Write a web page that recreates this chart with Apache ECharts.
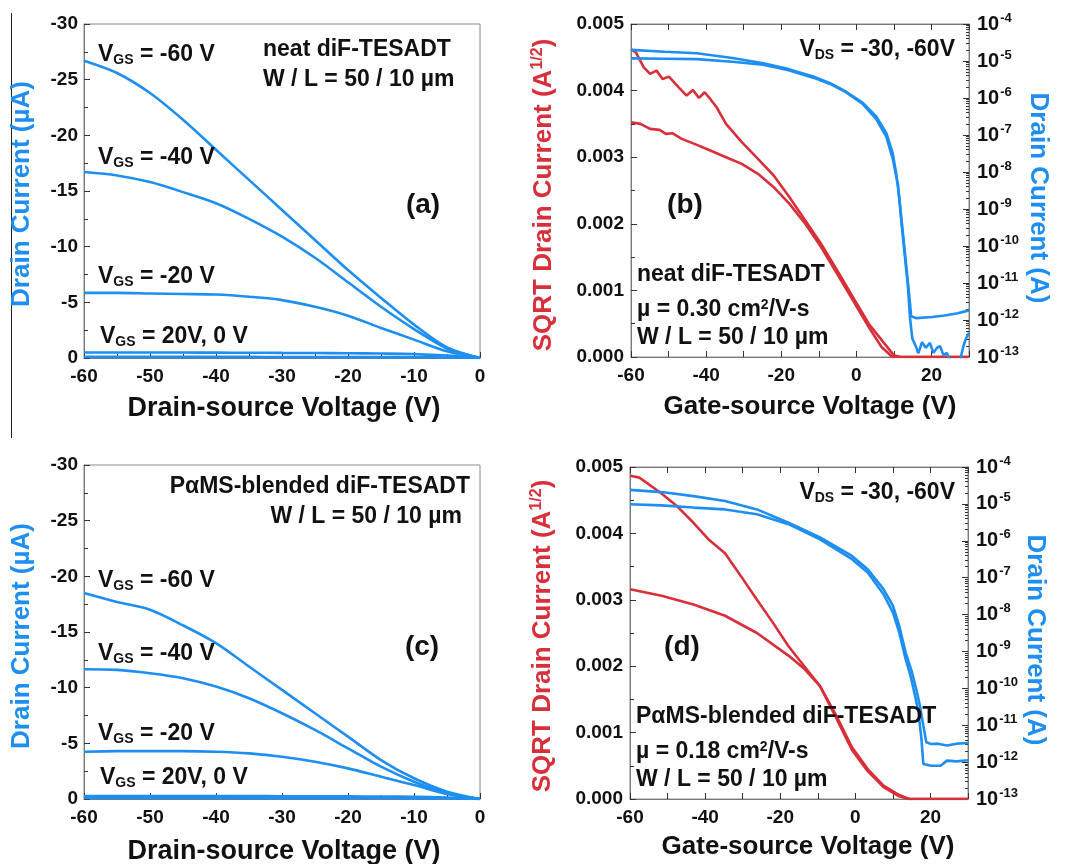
<!DOCTYPE html>
<html>
<head>
<meta charset="utf-8">
<script src="https://cdn.jsdelivr.net/npm/echarts@6/dist/echarts.min.js"></script>
<style>
  html, body { margin: 0; padding: 0; background: #fff; }
  #main { width: 1073px; height: 864px; }
</style>
</head>
<body>
<div id="main"></div>
<script>
/* ---------- (a) output curves, neat diF-TESADT ---------- */
var vdsA = [-60, -55, -50, -45, -40, -35, -30, -25, -20, -15, -10, -5, 0];
var idA_m60 = [-26.7, -25.6, -23.8, -21.4, -18.7, -16.0, -13.3, -10.6, -7.9, -5.4, -3.0, -0.95, 0];
var idA_m40 = [-16.7, -16.4, -15.8, -14.9, -13.9, -12.5, -10.9, -9.0, -6.8, -4.6, -2.6, -0.85, 0];
var idA_m20 = [-5.85, -5.85, -5.8, -5.75, -5.7, -5.5, -5.2, -4.6, -3.8, -2.7, -1.65, -0.6, 0];
var idA_0 = [-0.5, -0.5, -0.5, -0.49, -0.48, -0.47, -0.46, -0.45, -0.43, -0.4, -0.35, -0.22, 0];
var idA_p20 = [-0.1, -0.1, -0.1, -0.1, -0.1, -0.1, -0.09, -0.09, -0.08, -0.08, -0.07, -0.05, 0];

/* ---------- (c) output curves, PaMS-blended ---------- */
var vdsC = [-60, -55, -50, -45, -40, -35, -30, -25, -20, -15, -10, -5, 0];
var idC_m60 = [-18.5, -17.7, -17.0, -15.6, -14.0, -11.9, -9.8, -7.7, -5.6, -3.5, -1.86, -0.66, 0];
var idC_m40 = [-11.65, -11.6, -11.3, -10.85, -10.1, -9.05, -7.7, -6.2, -4.55, -2.9, -1.55, -0.5, 0];
var idC_m20 = [-4.25, -4.3, -4.3, -4.3, -4.25, -4.1, -3.8, -3.35, -2.75, -2.0, -1.26, -0.45, 0];
var idC_0 = [-0.27, -0.27, -0.27, -0.27, -0.26, -0.26, -0.25, -0.25, -0.24, -0.22, -0.2, -0.13, 0];
var idC_p20 = [-0.09, -0.09, -0.09, -0.09, -0.09, -0.08, -0.08, -0.08, -0.07, -0.07, -0.06, -0.04, 0];

/* ---------- (b) transfer curves, neat ---------- */
// sqrt(Id), left axis
var vgsB_r1 = [-60, -58.7, -56.6, -54.9, -53.2, -51.6, -49.9, -47.3, -45.2, -43.5, -41.9, -40.4, -38.9, -37.2, -34.7, -30.5, -26.2, -22.0, -17.8, -13.6, -9.4, -5.1, -0.9, 3.3, 7.5, 10.0, 11.7, 30];
var sqrtB_r1 = [0.00462, 0.004575, 0.00435, 0.00425, 0.0043, 0.004175, 0.00421, 0.00405, 0.003925, 0.00401, 0.00389, 0.003975, 0.003875, 0.00375, 0.0035, 0.003225, 0.002975, 0.002725, 0.0024, 0.00205, 0.0017, 0.0013, 0.0009, 0.0005, 0.0002, 0.000025, 0, 0];
var vgsB_r2 = [-60, -57.5, -54.9, -52.4, -50.7, -49.0, -46.5, -43.1, -38.9, -34.7, -30.5, -26.2, -22.0, -17.8, -13.6, -9.4, -5.1, -0.9, 3.3, 6.7, 9.6, 30];
var sqrtB_r2 = [0.003525, 0.0035, 0.003425, 0.00341, 0.00335, 0.00336, 0.003275, 0.0032, 0.0031, 0.003, 0.0029, 0.00275, 0.00255, 0.0023, 0.002, 0.00165, 0.00125, 0.00085, 0.00045, 0.00015, 0, 0];
// log10 of Id (A), right axis
var vgsB_b1 = [-60, -51, -42.5, -33, -24.8, -18, -11.5, -7, -2.7, 1.8, 5.3, 8.0, 9.7, 10.6, 11.5, 12.4, 13.3, 14.2, 14.6, 16.0, 20.2, 23.5, 27, 30];
var logB_b1 = [-4.70, -4.75, -4.79, -4.92, -5.06, -5.22, -5.42, -5.6, -5.83, -6.14, -6.5, -6.95, -7.5, -8.03, -8.75, -9.65, -10.55, -11.45, -11.9, -11.95, -11.92, -11.88, -11.82, -11.74];
var vgsB_b2 = [-60, -51, -42.5, -33, -24.8, -18, -11.5, -7, -2.7, 1.8, 5.3, 8.0, 9.7, 11.1, 11.9, 12.8, 13.7, 14.3, 14.9, 15.2, 16.0, 16.5, 17.5, 18.5, 19.6, 20.5, 21.5, 22.3, 23.2, 24.1, 25.0, 25.8, 26.7, 27.6, 28.5, 29.2, 30];
var logB_b2 = [-4.93, -4.94, -4.95, -5.02, -5.1, -5.25, -5.45, -5.62, -5.85, -6.17, -6.57, -7.05, -7.65, -8.35, -9.25, -10.15, -11.05, -11.95, -12.5, -12.53, -12.75, -12.9, -12.6, -12.75, -12.62, -12.89, -12.75, -12.71, -12.95, -12.89, -13.1, -13.1, -13.1, -13.1, -12.71, -12.5, -12.35];

/* ---------- (d) transfer curves, PaMS-blended ---------- */
var vgsD_r1 = [-60, -59.2, -57.5, -51.6, -47.3, -43.1, -38.9, -34.7, -30.5, -26.2, -22.0, -17.8, -13.6, -9.4, -5.1, -0.9, 3.3, 7.5, 11.7, 14.3, 30];
var sqrtD_r1 = [0.00487, 0.00486, 0.00484, 0.0046, 0.0044, 0.00416, 0.0039, 0.0037, 0.00336, 0.0030, 0.00266, 0.0023, 0.002, 0.0017, 0.00122, 0.00074, 0.00042, 0.00018, 0.00004, 0, 0];
var vgsD_r2 = [-60, -51.6, -43.1, -34.7, -26.2, -17.8, -13.6, -9.4, -5.1, -0.9, 3.3, 7.5, 11.7, 14.3, 30];
var sqrtD_r2 = [0.00316, 0.00306, 0.00293, 0.00276, 0.0025, 0.00216, 0.00196, 0.0017, 0.00126, 0.00078, 0.00045, 0.0002, 0.00006, 0, 0];
var vgsD_b1 = [-60, -51.6, -43.1, -34.7, -26.2, -17.8, -9.4, -0.9, 3.3, 7.5, 10.0, 11.7, 13.4, 15.1, 16.4, 17.2, 18.1, 18.9, 20.2, 22, 24.4, 27, 30];
var logD_b1 = [-4.62, -4.68, -4.79, -4.92, -5.15, -5.51, -5.91, -6.41, -6.77, -7.31, -7.76, -8.31, -9.03, -9.57, -10.1, -10.47, -11.01, -11.46, -11.51, -11.5, -11.55, -11.5, -11.48];
var vgsD_b2 = [-60, -51.6, -43.1, -34.7, -26.2, -17.8, -9.4, -0.9, 3.3, 7.5, 10.0, 11.7, 13.4, 14.7, 15.9, 16.8, 17.6, 18.1, 20.2, 22.7, 24.4, 27, 30];
var logD_b2 = [-5.01, -5.04, -5.1, -5.15, -5.28, -5.55, -5.96, -6.5, -6.86, -7.45, -7.94, -8.49, -9.21, -9.66, -10.2, -10.65, -11.37, -12.05, -12.1, -12.1, -11.96, -11.98, -11.95];

var BLUE = '#1e8ff0';
var RED = '#d8303a';
var INK = '#111';
var FONT = '"Liberation Sans", Arial, Helvetica, sans-serif';

function pairs(xs, ys) {
  return xs.map(function (x, i) { return [x, ys[i]]; });
}
function logPairs(xs, es) {
  return xs.map(function (x, i) { return [x, Math.pow(10, es[i])]; });
}

var tickLabel = { fontFamily: FONT, fontWeight: 'bold', fontSize: 19, color: INK };
var axisLineStyle = { color: '#7a7a7a', width: 1 };
var tickStyle = { color: '#333' };

function xAxisOf(grid, min, max, interval, pos, labels) {
  return {
    type: 'value', gridIndex: grid, min: min, max: max, interval: interval,
    position: pos,
    axisLine: { onZero: false, lineStyle: axisLineStyle },
    axisTick: { show: true, inside: true, length: 6, lineStyle: tickStyle },
    minorTick: { show: max === 0, splitNumber: 2, length: 4, lineStyle: tickStyle },
    splitLine: { show: false },
    axisLabel: labels ? Object.assign({ margin: 9, formatter: labels }, tickLabel) : { show: false }
  };
}

function yAxisOf(grid, opt) {
  return Object.assign({
    type: 'value', gridIndex: grid,
    axisLine: { show: true, onZero: false, lineStyle: axisLineStyle },
    axisTick: { show: true, inside: true, length: 6, lineStyle: tickStyle },
    minorTick: { show: true, splitNumber: 2, length: 4, lineStyle: tickStyle },
    splitLine: { show: false }
  }, opt);
}

function logAxis(grid) {
  return {
    type: 'log', logBase: 10, gridIndex: grid, position: 'right',
    min: 1e-13, max: 1e-4,
    axisLine: { show: true, onZero: false, lineStyle: axisLineStyle },
    axisTick: { show: true, inside: true, length: 6, lineStyle: tickStyle },
    minorTick: { show: true, splitNumber: 9, length: 3, lineStyle: tickStyle },
    splitLine: { show: false },
    axisLabel: {
      margin: 8,
      formatter: function (v) {
        return '{b|10}{s|' + Math.round(Math.log10(v)) + '}';
      },
      rich: {
        b: { fontFamily: FONT, fontWeight: 'bold', fontSize: 20, color: INK },
        s: { fontFamily: FONT, fontWeight: 'bold', fontSize: 13, color: INK, padding: [0, 0, 12, 1] }
      }
    }
  };
}

function gateLabel(v) { return (v % 20 === 0 && v < 30) ? String(v) : ''; }

function line(data, xi, yi, color, smooth) {
  return {
    type: 'line', data: data, xAxisIndex: xi, yAxisIndex: yi,
    symbol: 'none', smooth: smooth || false, clip: true,
    lineStyle: { color: color, width: 2.6 },
    silent: true
  };
}

function rich(size, color) {
  var small = Math.round(size * 0.6);
  return {
    sub: { fontSize: small, fontWeight: 'bold', fontFamily: FONT, fill: color, padding: [Math.round(size * 0.42), 0, 0, 0] },
    sup: { fontSize: small, fontWeight: 'bold', fontFamily: FONT, fill: color, padding: [0, 0, Math.round(size * 0.45), 0] }
  };
}

function note(x, y, text, size, color, align, rot) {
  size = size || 23;
  color = color || INK;
  return {
    type: 'text', x: x, y: y, z: 100, rotation: rot || 0,
    style: {
      text: text, fill: color, font: 'bold ' + size + 'px ' + FONT,
      align: align || 'left', verticalAlign: 'middle', rich: rich(size, color)
    }
  };
}

var R90 = Math.PI / 2;

var myChart = echarts.init(document.getElementById('main'));
var option = {
  animation: false,
  backgroundColor: '#fff',
  grid: [
    { left: 84, top: 24, width: 396, height: 334, show: true, borderColor: '#8a8a8a', borderWidth: 1 },
    { left: 631, top: 24, width: 338, height: 333, show: true, borderColor: '#8a8a8a', borderWidth: 1 },
    { left: 84, top: 465, width: 396, height: 334, show: true, borderColor: '#8a8a8a', borderWidth: 1 },
    { left: 630, top: 467, width: 338, height: 332, show: true, borderColor: '#8a8a8a', borderWidth: 1 }
  ],
  xAxis: [
    xAxisOf(0, -60, 0, 10, 'bottom', '{value}'),
    xAxisOf(1, -60, 30, 10, 'bottom', gateLabel),
    xAxisOf(1, -60, 30, 10, 'top', null),
    xAxisOf(2, -60, 0, 10, 'bottom', '{value}'),
    xAxisOf(3, -60, 30, 10, 'bottom', gateLabel),
    xAxisOf(3, -60, 30, 10, 'top', null)
  ],
  yAxis: [
    yAxisOf(0, { min: -30, max: 0, interval: 5, inverse: true, axisLabel: Object.assign({ margin: 6 }, tickLabel) }),
    yAxisOf(1, { min: 0, max: 0.005, interval: 0.001, axisLabel: Object.assign({ margin: 7, formatter: function (v) { return v.toFixed(3); } }, tickLabel) }),
    logAxis(1),
    yAxisOf(2, { min: -30, max: 0, interval: 5, inverse: true, axisLabel: Object.assign({ margin: 6 }, tickLabel) }),
    yAxisOf(3, { min: 0, max: 0.005, interval: 0.001, axisLabel: Object.assign({ margin: 7, formatter: function (v) { return v.toFixed(3); } }, tickLabel) }),
    logAxis(3)
  ],
  series: [
    line(pairs(vdsA, idA_m60), 0, 0, BLUE, 0.3),
    line(pairs(vdsA, idA_m40), 0, 0, BLUE, 0.3),
    line(pairs(vdsA, idA_m20), 0, 0, BLUE, 0.3),
    line(pairs(vdsA, idA_0), 0, 0, BLUE, 0.3),
    line(pairs(vdsA, idA_p20), 0, 0, BLUE, 0.3),

    line(pairs(vgsB_r1, sqrtB_r1), 1, 1, RED),
    line(pairs(vgsB_r2, sqrtB_r2), 1, 1, RED),
    line(logPairs(vgsB_b1, logB_b1), 1, 2, BLUE),
    line(logPairs(vgsB_b2, logB_b2), 1, 2, BLUE),

    line(pairs(vdsC, idC_m60), 3, 3, BLUE, 0.3),
    line(pairs(vdsC, idC_m40), 3, 3, BLUE, 0.3),
    line(pairs(vdsC, idC_m20), 3, 3, BLUE, 0.3),
    line(pairs(vdsC, idC_0), 3, 3, BLUE, 0.3),
    line(pairs(vdsC, idC_p20), 3, 3, BLUE, 0.3),

    line(pairs(vgsD_r1, sqrtD_r1), 4, 4, RED),
    line(pairs(vgsD_r2, sqrtD_r2), 4, 4, RED),
    line(logPairs(vgsD_b1, logD_b1), 4, 5, BLUE),
    line(logPairs(vgsD_b2, logD_b2), 4, 5, BLUE)
  ],
  graphic: [
    { type: 'line', shape: { x1: 11.5, y1: 13, x2: 11.5, y2: 438 }, style: { stroke: '#222', lineWidth: 1 } },

    // axis titles
    note(22, 194, 'Drain Current (µA)', 26, BLUE, 'center', R90),
    note(22, 636, 'Drain Current (µA)', 26, BLUE, 'center', R90),
    note(284, 409, 'Drain-source Voltage (V)', 27, INK, 'center'),
    note(284, 852, 'Drain-source Voltage (V)', 27, INK, 'center'),
    note(544, 195, 'SQRT Drain Current (A{sup|1/2})', 26, RED, 'center', R90),
    note(543, 636, 'SQRT Drain Current (A{sup|1/2})', 26, RED, 'center', R90),
    note(1038, 198, 'Drain Current (A)', 26, BLUE, 'center', -R90),
    note(1035, 640, 'Drain Current (A)', 26, BLUE, 'center', -R90),
    note(810, 407, 'Gate-source Voltage (V)', 26, INK, 'center'),
    note(808, 847, 'Gate-source Voltage (V)', 26, INK, 'center'),

    // panel (a)
    note(98, 55, 'V{sub|GS} = -60 V'),
    note(98, 158, 'V{sub|GS} = -40 V'),
    note(98, 277, 'V{sub|GS} = -20 V'),
    note(100, 337, 'V{sub|GS} = 20V, 0 V'),
    note(263, 50, 'neat diF-TESADT'),
    note(263, 80, 'W / L = 50 / 10 µm'),
    note(423, 205, '(a)', 28, INK, 'center'),

    // panel (c)
    note(470, 487, 'PαMS-blended diF-TESADT', 23, INK, 'right'),
    note(462, 517, 'W / L = 50 / 10 µm', 23, INK, 'right'),
    note(98, 581, 'V{sub|GS} = -60 V'),
    note(98, 654, 'V{sub|GS} = -40 V'),
    note(98, 734, 'V{sub|GS} = -20 V'),
    note(100, 778, 'V{sub|GS} = 20V, 0 V'),
    note(422, 647, '(c)', 28, INK, 'center'),

    // panel (b)
    note(955, 50, 'V{sub|DS} = -30, -60V', 23, INK, 'right'),
    note(685, 205, '(b)', 28, INK, 'center'),
    note(637, 275, 'neat diF-TESADT'),
    note(637, 310, 'µ = 0.30 cm{sup|2}/V-s'),
    note(637, 338, 'W / L = 50 / 10 µm'),

    // panel (d)
    note(955, 493, 'V{sub|DS} = -30, -60V', 23, INK, 'right'),
    note(682, 647, '(d)', 28, INK, 'center'),
    note(636, 717, 'PαMS-blended diF-TESADT'),
    note(636, 752, 'µ = 0.18 cm{sup|2}/V-s'),
    note(636, 780, 'W / L = 50 / 10 µm')
  ]
};
myChart.setOption(option);
window.addEventListener('resize', function () {
  myChart.resize();
});
</script>
</body>
</html>
